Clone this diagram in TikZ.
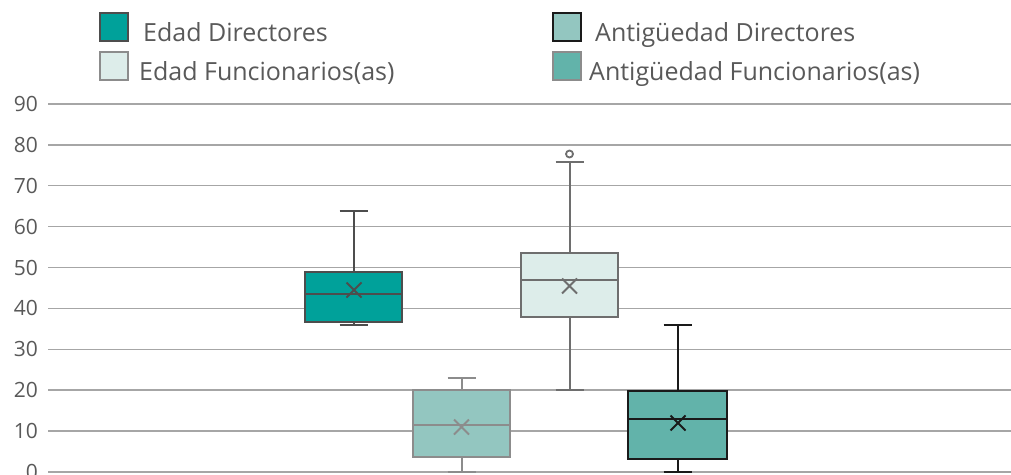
\documentclass[tikz,border=0pt]{standalone}
\usepackage{fontspec}
\setmainfont{Open Sans}
\usetikzlibrary{shapes.misc}
\definecolor{txt}{HTML}{595959}
\definecolor{gridc}{HTML}{A6A6A6}
\definecolor{fA}{HTML}{00A19A}
\definecolor{lA}{HTML}{4D4D4D}
\definecolor{fB}{HTML}{93C6C0}
\definecolor{lB}{HTML}{8C8C8C}
\definecolor{fC}{HTML}{DDEDEA}
\definecolor{lC}{HTML}{6E6E6E}
\definecolor{fD}{HTML}{62B3AA}
\definecolor{lD}{HTML}{1A1A1A}
\tikzset{
  gridline/.style={draw=gridc, line width=1.5pt},
  axlab/.style={anchor=east, text=txt, inner sep=0pt, font=\fontsize{21}{24}\selectfont},
  legtext/.style={anchor=base west, text=txt, inner sep=0pt, font=\fontsize{25}{30}\selectfont},
  legsq/.style={minimum width=28pt, minimum height=28pt, inner sep=0pt, line width=2pt},
  boxbase/.style={rectangle, inner sep=0pt, outer sep=0pt, minimum width=97pt},
  wh/.style={line width=2pt},
  meanx/.style={cross out, draw, minimum size=13pt, inner sep=0pt, line width=2pt},
}
\begin{document}
\begin{tikzpicture}[x=1pt,y=-1pt]
\useasboundingbox (0,0) rectangle (1011,474);
% grid and axis labels
\foreach \v in {0,...,9} {
  \pgfmathsetmacro{\yy}{472-40.9*\v}
  \coordinate (g\v) at (48,\yy);
  \coordinate (h\v) at (1011,\yy);
  \draw[gridline] (g\v) -- (h\v);
  \node[axlab] (l\v) at (38,\yy) {\number\numexpr\v*10\relax};
}
% Box 1: Edad Directores
\node[boxbase, draw=lA, fill=fA, line width=2pt, minimum height=50pt] (b1) at (353.5,297) {};
\coordinate (b1t) at (353.5,211);
\coordinate (b1b) at (353.5,325);
\draw[wh, lA] (b1.north) -- (b1t);
\draw[wh, lA] (b1.south) -- (b1b);
\draw[wh, lA] ([xshift=-14pt]b1t) -- ([xshift=14pt]b1t);
\draw[wh, lA] ([xshift=-14pt]b1b) -- ([xshift=14pt]b1b);
\draw[wh, lA] (b1.west |- 0,294) -- (b1.east |- 0,294);
\node[meanx, lA] (m1) at (354,290) {};
% Box 2: Antiguedad Directores
\node[boxbase, draw=lB, fill=fB, line width=2pt, minimum height=67pt] (b2) at (461.5,423.5) {};
\coordinate (b2t) at (461.5,378);
\coordinate (b2b) at (461.5,472);
\draw[wh, lB] (b2.north) -- (b2t);
\draw[wh, lB] (b2.south) -- (b2b);
\draw[wh, lB] ([xshift=-14pt]b2t) -- ([xshift=14pt]b2t);
\draw[wh, lB] ([xshift=-14pt]b2b) -- ([xshift=14pt]b2b);
\draw[wh, lB] (b2.west |- 0,425) -- (b2.east |- 0,425);
\node[meanx, lB] (m2) at (461.5,427) {};
% Box 3: Edad Funcionarios
\node[boxbase, draw=lC, fill=fC, line width=2pt, minimum height=64pt] (b3) at (569.5,285) {};
\coordinate (b3t) at (569.5,162);
\coordinate (b3b) at (569.5,390);
\draw[wh, lC] (b3.north) -- (b3t);
\draw[wh, lC] (b3.south) -- (b3b);
\draw[wh, lC] ([xshift=-14pt]b3t) -- ([xshift=14pt]b3t);
\draw[wh, lC] ([xshift=-14pt]b3b) -- ([xshift=14pt]b3b);
\draw[wh, lC] (b3.west |- 0,280) -- (b3.east |- 0,280);
\node[meanx, lC] (m3) at (569.5,286) {};
\node[circle, draw=lC, line width=1.8pt, minimum size=7pt, inner sep=0pt] (o3) at (569.5,154) {};
% Box 4: Antiguedad Funcionarios
\node[boxbase, draw=lD, fill=fD, line width=2pt, minimum width=99pt, minimum height=68pt] (b4) at (677.5,425) {};
\coordinate (b4t) at (677.5,325);
\coordinate (b4b) at (677.5,472);
\draw[wh, lD] (b4.north) -- (b4t);
\draw[wh, lD] (b4.south) -- (b4b);
\draw[wh, lD] ([xshift=-14pt]b4t) -- ([xshift=14pt]b4t);
\draw[wh, lD] ([xshift=-14pt]b4b) -- ([xshift=14pt]b4b);
\draw[wh, lD] (b4.west |- 0,419) -- (b4.east |- 0,419);
\node[meanx, lD] (m4) at (678,423) {};
% Legend
\node[legsq, draw=lA, fill=fA] (s1) at (114,27) {};
\node[legtext] (t1) at (143,41.5) {Edad Directores};
\node[legsq, draw=lB, fill=fC] (s2) at (114,66) {};
\node[legtext] (t2) at (139,80) {Edad Funcionarios(as)};
\node[legsq, draw=lD, fill=fB] (s3) at (566.5,27) {};
\node[legtext] (t3) at (595,41.5) {Antigüedad Directores};
\node[legsq, draw=lB, fill=fD] (s4) at (566.5,66) {};
\node[legtext] (t4) at (589,80) {Antigüedad Funcionarios(as)};
\end{tikzpicture}
\end{document}
